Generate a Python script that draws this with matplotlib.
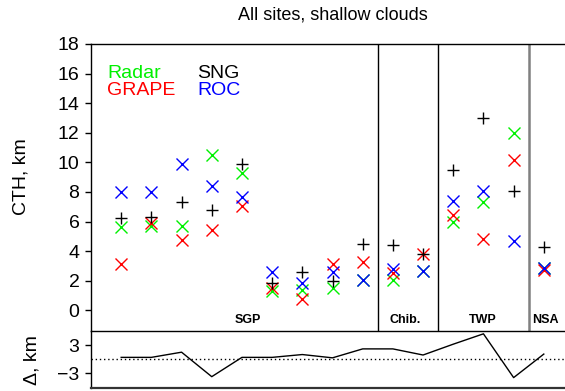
import numpy as np
import matplotlib
matplotlib.use("Agg")
import matplotlib.pyplot as plt

plt.rcParams['font.family'] = ['Liberation Sans', 'DejaVu Sans']

# 資料
case = np.arange(1, 16)
radar = [5.64, 5.71, 5.71, 10.49, 9.25, 1.29, 1.35, 1.53, 2.03, 2.08, 2.66, 5.98, 7.33, 12.0, 2.85]
grape = [3.11, 5.93, 4.78, 5.46, 7.06, 1.53, 0.79, 3.11, 3.27, 2.53, 3.79, 6.47, 4.80, 10.19, 2.75]
sng = [6.27, 6.31, 7.33, 6.77, 9.92, 1.87, 2.59, 1.98, 4.51, 4.40, 3.79, 9.47, 13.01, 8.05, 4.28]
roc = [8.0, 8.0, 9.86, 8.39, 7.67, 2.59, 1.87, 2.59, 2.03, 2.82, 2.66, 7.37, 8.05, 4.69, 2.89]
delta = [0.4, 0.4, 1.5, -3.7, 0.4, 0.4, 1.0, 0.3, 2.2, 2.2, 0.9, 3.2, 5.4, -3.9, 1.1]

sites = ["SGP", "Chib.", "TWP", "NSA"]
site_x = [5.2, 10.41, 12.98, 15.05]
borders = [9.5, 11.5, 14.5]

W, H = 565, 391
fig = plt.figure(figsize=(W / 100, H / 100), dpi=100)
ax = fig.add_axes([91 / W, 1 - 331 / H, (574 - 91) / W, (331 - 44) / H])
ax2 = fig.add_axes([91 / W, 1 - 387.5 / H, (574 - 91) / W, (387.5 - 331) / H])

##上圖
ms = 9
ax.plot(case, radar, 'x', color='#00f000', ms=ms, mew=1.0)
ax.plot(case, grape, 'x', color='#ff0000', ms=ms, mew=1.0)
ax.plot(case, roc, 'x', color='#0000ff', ms=ms, mew=1.0)
ax.plot(case, sng, '+', color='black', ms=ms, mew=1.0)

for b in borders[:2]:
    ax.axvline(b, color='black', lw=1.0)
ax.axvline(borders[2], color='#808080', lw=1.8)

for s, x in zip(sites, site_x):
    ax.text(x, -0.86, s, ha='center', va='baseline', fontsize=9, fontweight='bold')

ax.text(0.53, 15.7, "Radar", color='#00f000', fontsize=14, va='baseline')
ax.text(0.53, 14.57, "GRAPE", color='#ff0000', fontsize=14, va='baseline')
ax.text(3.51, 15.7, "SNG", color='black', fontsize=14, va='baseline')
ax.text(3.51, 14.57, "ROC", color='#0000ff', fontsize=14, va='baseline')

ax.set_xlim(0, 16)
ax.set_ylim(-1.4, 18)
ax.set_yticks(range(0, 19, 2))
ax.set_xticks([])
ax.tick_params(axis='y', direction='out', length=4.3, width=1.0, labelsize=14, pad=4)
ax.spines['right'].set_visible(False)
ax.spines['bottom'].set_visible(False)
for sp in ['left', 'top']:
    ax.spines[sp].set_linewidth(1.0)
ax.set_title("All sites, shallow clouds", fontsize=13, pad=18)

##下圖
ax2.plot(case, delta, color='black', lw=1.0)
ax2.axhline(0, color='black', lw=1.0, ls=(0, (1, 2)))
ax2.set_xlim(0, 16)
ax2.set_ylim(-6, 6)
ax2.set_yticks([-3, 3])
ax2.set_xticks([])
ax2.tick_params(axis='y', direction='out', length=4.3, width=1.0, labelsize=14, pad=4)
ax2.spines['right'].set_visible(False)
ax2.spines['top'].set_linewidth(1.0)
ax2.spines['left'].set_linewidth(1.0)
ax2.spines['bottom'].set_linewidth(1.6)
ax2.spines['bottom'].set_color('#333333')

fig.text(20.7 / W, 1 - 177 / H, "CTH, km", rotation=90, ha='center', va='center', fontsize=14)
fig.text(32 / W, 1 - 360 / H, "Δ, km", rotation=90, ha='center', va='center', fontsize=14)

fig.savefig("out.png", dpi=100)
